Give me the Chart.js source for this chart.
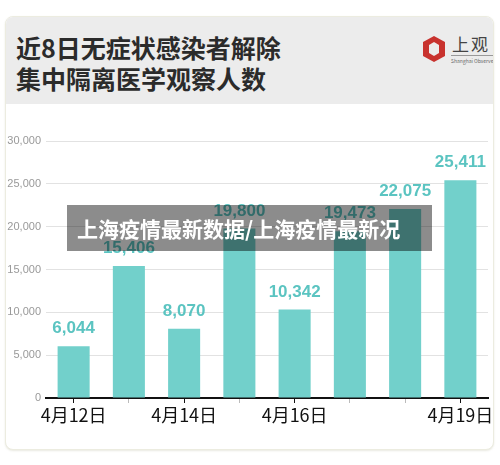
<!DOCTYPE html>
<html>
<head>
<meta charset="utf-8">
<script src="https://cdn.jsdelivr.net/npm/chart.js@4"></script>
<style>
  html, body { margin: 0; padding: 0; background: #fff; width: 500px; height: 465px; overflow: hidden; }
  body { position: relative; font-family: "Noto Sans CJK SC", "Noto Sans", sans-serif; }
  .card {
    position: absolute; left: 5px; top: 16px; width: 487px; height: 432px;
    border: 1px solid #ecece0; border-radius: 8px; background: #fff; overflow: hidden;
    box-shadow: 0 1px 2px rgba(200,200,180,0.4);
  }
  .head { position: absolute; left: 0; top: 0; width: 100%; height: 87px; background: #ececec; }
  .title {
    position: absolute; left: 10px; top: 15px; font-size: 25px; font-weight: bold;
    line-height: 31px; color: #2b2b2b;
  }
  .logo { position: absolute; left: 413px; top: 14px; width: 75px; height: 40px; }
  .logo .zh { position: absolute; left: 33px; top: 0px; font-size: 17px; color: #444; letter-spacing: 2px; }
  .logo .en { position: absolute; left: 32px; top: 24px; font-size: 5px; color: #666; border-top: 1px solid #999; padding-top: 1px; white-space: nowrap; }
  #wrap { position: absolute; left: 0; top: 111px; width: 500px; height: 330px; }
  .mark {
    position: absolute; left: 67px; top: 205px; width: 365px; height: 46px;
    background: rgba(0,0,0,0.45); color: #fff; font-weight: bold; font-size: 21px;
    line-height: 46px; padding-left: 10px; box-sizing: border-box; white-space: nowrap;
  }
</style>
</head>
<body>
<div class="card">
  <div class="head">
    <div class="title">近8日无症状感染者解除<br>集中隔离医学观察人数</div>
    <div class="logo">
      <svg width="30" height="30" viewBox="0 0 30 30" style="position:absolute;left:0;top:3px">
        <polygon points="15,2 26,8 26,22 15,28 4,22 4,8" fill="#c8322e"/>
        <polygon points="15,8 20,11 20,19 15,22 10,19 10,11" fill="#ececec"/>
      </svg>
      <div class="zh">上观</div>
      <div class="en">Shanghai Observer</div>
    </div>
  </div>
</div>
<div id="wrap"><canvas id="chart"></canvas></div>
<div class="mark">上海疫情最新数据/上海疫情最新况</div>
<script>
const categories = ['4月12日', '4月13日', '4月14日', '4月15日', '4月16日', '4月17日', '4月18日', '4月19日'];
const values = [6044, 15406, 8070, 19800, 10342, 19473, 22075, 25411];
const shownLabels = [0, 2, 4, 7]; // only these dates are printed under the axis
const yTicks = [0, 5000, 10000, 15000, 20000, 25000, 30000];

// draws the number above each bar
const valueLabels = {
  id: 'valueLabels',
  afterDatasetsDraw(chart) {
    const ctx = chart.ctx;
    const meta = chart.getDatasetMeta(0);
    ctx.save();
    ctx.font = 'bold 17px "Liberation Sans", Arial, sans-serif';
    ctx.fillStyle = '#5bc4c1';
    ctx.textAlign = 'center';
    ctx.textBaseline = 'bottom';
    meta.data.forEach(function(bar, i) {
      ctx.fillText(values[i].toLocaleString('en-US'), bar.x, bar.y - 9);
    });
    ctx.restore();
  }
};

new Chart(document.getElementById('chart'), {
  type: 'bar',
  data: {
    labels: categories,
    datasets: [{
      data: values,
      backgroundColor: '#72d0cb',
      categoryPercentage: 0.58,
      barPercentage: 1
    }]
  },
  options: {
    responsive: true,
    maintainAspectRatio: false,
    animation: false,
    layout: { padding: { top: 30, right: 12, left: 0, bottom: 0 } },
    plugins: { legend: { display: false }, tooltip: { enabled: false } },
    scales: {
      y: {
        min: 0,
        max: 30000,
        afterFit: function(scale) { scale.width = 46; },
        afterBuildTicks: function(scale) { scale.ticks = yTicks.map(function(v) { return { value: v }; }); },
        border: { display: false },
        grid: { color: '#e2e2e2', borderDash: [2, 3], drawTicks: false },
        ticks: {
          padding: 5,
          color: '#999',
          font: { family: '"Liberation Sans", Arial, sans-serif', size: 11 },
          callback: function(v) { return v.toLocaleString('en-US'); }
        }
      },
      x: {
        afterFit: function(scale) { scale.height = 43; },
        border: { display: true, color: '#111', width: 2 },
        grid: {
          offset: false,
          drawOnChartArea: false,
          tickLength: 5,
          color: function(c) { return shownLabels.includes(c.index) ? '#111' : '#bbb'; }
        },
        ticks: {
          padding: 1,
          autoSkip: false,
          maxRotation: 0,
          color: '#111',
          font: { family: '"Noto Sans CJK SC", sans-serif', size: 18 },
          callback: function(v, i) { return shownLabels.includes(i) ? categories[i] : ''; }
        }
      }
    }
  },
  plugins: [valueLabels]
});
</script>
</body>
</html>
